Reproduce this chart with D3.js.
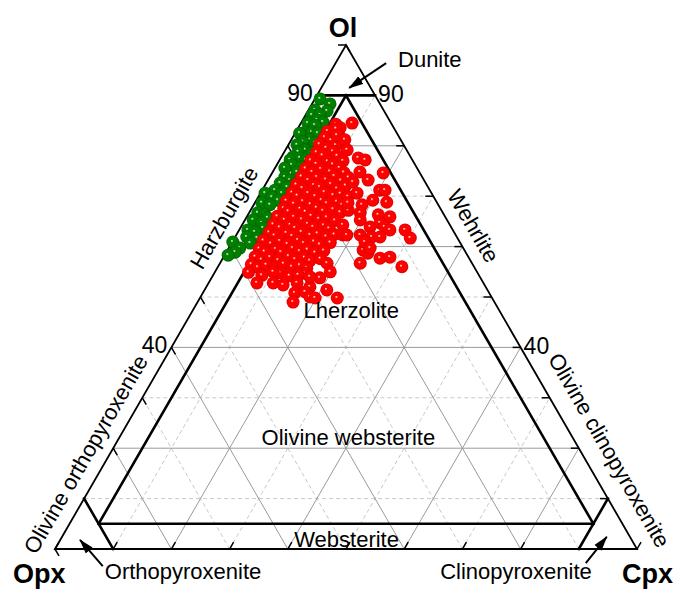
<!DOCTYPE html>
<html>
<head>
<meta charset="utf-8">
<script src="https://cdn.jsdelivr.net/npm/d3@7"></script>
<style>
  body { margin: 0; background: #fff; }
  svg { display: block; }
  text { font-family: "Liberation Sans", Arial, sans-serif; fill: #000; }
</style>
</head>
<body>
<svg id="chart" width="678" height="592"></svg>
<script>
// Ternary end-members
const vertexNames = ["Ol", "Opx", "Cpx"];

// Axis ticks every 10 %, grid lines major / minor
const tickValues = [0, 10, 20, 30, 40, 50, 60, 70, 80, 90, 100];
const majorGrid = [20, 40, 60, 80];
const minorGrid = [10, 30, 50, 70, 90];
const sideTickLabels = [90, 40];

// Samples as [Ol %, Cpx %]; Opx is the balance to 100 %
const harzburgite = [
  [89.3,0.9],[88.3,3.1],[87.1,1.1],[86.9,3.3],[86.1,1.1],[86.1,2.5],[85.1,2.5],[84.7,3.7],
  [84.5,1.2],[84.1,2.6],[82.7,1.6],[82.7,2.8],[82.5,3.9],[82.5,0.8],[81.2,3.2],[80.8,2.2],
  [80.6,4.4],[80.2,1.5],[79.2,3.4],[78.8,2.4],[78.6,4.9],[77.8,2.0],[77.6,3.3],[77.2,4.5],
  [77.2,1.8],[76.2,2.6],[75.8,4.5],[75.6,1.7],[74.8,4.2],[73.8,2.6],[73.2,3.8],[72.6,2.4],
  [72.6,4.9],[71.8,4.0],[71.2,2.2],[70.6,3.7],[70.6,0.8],[69.8,2.4],[69.2,3.7],[68.7,1.2],
  [68.3,2.8],[66.7,1.5],[66.3,2.9],[65.7,3.7],[65.3,1.4],[64.7,3.2],[63.7,3.9],[63.3,1.5],
  [62.9,2.9],[61.9,2.0],[61.7,3.9],[60.9,0.1],[60.7,3.2],[59.7,1.9],[58.9,1.5],[58.3,0.6]
];

const lherzolite = [
  [84.3,6.1],[83.6,7.2],[82.9,5.4],[83.4,6.6],[81.7,5.5],[81.1,6.9],[81.8,8.0],
  [80.3,5.3],[79.6,6.8],[80.1,8.2],[78.7,5.6],[78.1,6.9],[78.9,8.3],[78.0,9.5],
  [77.1,5.4],[76.4,6.7],[76.9,8.4],[76.3,9.6],[77.0,11.0],
  [75.5,5.3],[74.8,6.8],[75.4,8.0],[74.9,9.8],[75.6,11.1],[74.7,12.3],
  [73.9,5.4],[73.2,6.9],[73.8,8.1],[73.3,9.9],[74.0,11.0],[73.1,12.6],[73.7,13.6],
  [72.3,5.3],[71.6,6.7],[72.2,8.4],[71.8,9.6],[72.4,11.2],[71.5,12.7],[72.1,13.9],
  [70.7,5.4],[70.1,6.6],[70.6,8.2],[70.0,9.7],[70.8,10.9],[70.2,12.7],[70.5,13.8],[69.9,15.4],
  [69.1,5.2],[68.5,6.8],[69.0,8.1],[68.4,9.7],[69.2,11.2],[68.6,12.4],[68.9,14.0],[68.3,15.2],
  [67.6,5.5],[67.0,6.6],[67.5,8.4],[66.9,9.6],[67.7,11.1],[67.1,12.5],[67.4,14.1],[66.8,15.6],[67.2,16.8],
  [66.0,5.2],[65.3,6.8],[65.9,8.1],[65.4,9.7],[66.1,11.0],[65.5,12.6],[65.8,13.8],[65.2,15.5],
  [64.4,5.3],[63.8,6.7],[64.3,8.3],[63.7,9.4],[64.5,11.2],[63.9,12.4],[64.2,14.1],[63.6,15.3],
  [62.8,5.4],[62.2,6.6],[62.7,8.4],[62.1,9.7],[62.9,10.9],[62.3,12.7],[62.6,13.8],[62.0,15.6],[62.4,16.8],
  [61.2,5.2],[60.6,6.8],[61.1,8.1],[60.5,9.7],[61.3,11.1],[60.7,12.4],[61.0,14.0],[60.4,15.3],[60.8,16.9],
  [59.6,5.3],[59.0,6.5],[59.5,8.2],[58.9,9.4],[59.7,11.0],[59.1,12.5],[59.4,13.7],[58.8,15.3],[59.2,16.6],
  [58.0,5.4],[57.4,6.8],[57.9,8.0],[57.3,9.7],[58.1,11.1],[57.5,12.5],[57.8,14.0],[57.2,15.2],[57.6,16.8],
  [56.5,5.5],[55.9,6.9],[56.4,8.1],[55.8,9.8],[56.6,11.0],[56.0,12.7],[56.3,13.9],[55.7,15.4],
  [54.9,5.8],[54.3,8.4],[54.8,11.3],[54.2,13.2],[54.7,15.5],
  [84.5,8.8],[82.1,7.4],[81.2,9.2],[79.2,10.6],[77.6,13.3],[77.2,14.7],[74.8,15.0],[74.6,19.1],
  [73.2,17.2],[72.8,14.8],[71.2,20.2],[71.2,21.1],[70.6,16.6],[69.2,20.0],[68.8,22.6],[68.3,18.6],
  [68.7,16.0],[66.7,19.1],[66.3,22.4],[65.9,24.6],[64.7,23.5],[63.9,24.7],[63.3,25.9],[63.9,22.2],
  [64.3,17.3],[62.3,21.3],[61.9,23.5],[61.9,24.9],[63.3,28.5],[61.7,30.2],[59.3,23.3],[58.7,24.4],
  [57.7,27.0],[57.9,28.6],[56.0,31.6],[56.7,24.1],[62.3,18.3],[56.7,18.4],[55.0,19.8],[54.4,14.6],
  [55.0,10.0],[52.8,8.3],[52.8,11.1],[52.4,13.0],[52.8,15.2],[52.0,17.8],[53.8,18.6],[50.8,15.8],
  [51.0,17.5],[49.0,16.4],[50.0,18.8],[49.8,19.8],[51.4,21.0],[49.8,23.6],[65.3,19.8],[60.9,22.8],
  [59.7,24.3],[62.3,19.0],[54.0,16.8]
];

// IUGS ultramafic field boundaries, end points as [Ol, Cpx]
const boundaries = [
  [[90, 0], [90, 10]],   // Ol = 90
  [[90, 5], [5, 5]],     // Cpx = 5
  [[90, 5], [5, 90]],    // Opx = 5
  [[5, 5], [5, 90]],     // Ol = 5
  [[10, 0], [0, 10]],    // Opx = 90
  [[0, 90], [10, 90]]    // Cpx = 90
];

// Field names: text, anchor [Ol, Cpx], rotation
const fieldLabels = [
  { text: "Lherzolite",              at: [45.8, 28.0],  rot: 0 },
  { text: "Olivine websterite",      at: [20.6, 40.1],  rot: 0 },
  { text: "Websterite",              at: [0.4, 49.9],   rot: 0 },
  { text: "Orthopyroxenite",         at: [-6.0, 25.0],  rot: 0 },
  { text: "Clinopyroxenite",         at: [-6.0, 82.2],  rot: 0 },
  { text: "Dunite",                  at: [95.6, 16.6],  rot: 0 },
  { text: "Harzburgite",             at: [65.7, -3.8],  rot: -60, mid: true },
  { text: "Wehrlite",                at: [64.1, 39.8],  rot: 60,  mid: true },
  { text: "Olivine orthopyroxenite", at: [18.8, -4.1],  rot: -60, mid: true },
  { text: "Olivine clinopyroxenite", at: [19.6, 85.4],  rot: 60,  mid: true }
];

// Pointer arrows: tail -> head, as [Ol, Cpx]
const arrows = [
  [[96.4, 8.7], [91.5, 4.8]],
  [[-3.4, 9.9], [1.8, 3.4]],
  [[-2.8, 92.6], [2.4, 93.6]]
];

const svg = d3.select("#chart");

// Base runs Opx (Cpx = 0) to Cpx (Cpx = 100); height measures Ol
const xBase = d3.scaleLinear().domain([0, 100]).range([55, 637]);
const yOl = d3.scaleLinear().domain([0, 100]).range([549, 45]);
const proj = (ol, cpx) => [xBase(cpx + ol / 2), yOl(ol)];

const defs = svg.append("defs");
function sphere(id, base, edge) {
  const g = defs.append("radialGradient").attr("id", id)
    .attr("cx", "50%").attr("cy", "50%").attr("r", "50%")
    .attr("fx", "42%").attr("fy", "40%");
  g.append("stop").attr("offset", "0%").attr("stop-color", "#ffffff");
  g.append("stop").attr("offset", "24%").attr("stop-color", base);
  g.append("stop").attr("offset", "78%").attr("stop-color", base);
  g.append("stop").attr("offset", "100%").attr("stop-color", edge);
}
sphere("ballRed", "#ff0000", "#d40000");
sphere("ballGreen", "#008000", "#005c00");

defs.append("marker").attr("id", "head")
  .attr("viewBox", "0 0 15 10").attr("refX", 14).attr("refY", 5)
  .attr("markerWidth", 15).attr("markerHeight", 10)
  .attr("markerUnits", "userSpaceOnUse").attr("orient", "auto")
  .append("path").attr("d", "M0,0.5 L15,5 L0,9.5 Z").attr("fill", "#000");

const line = d3.line();

// Grid: three families of iso-lines
const grid = svg.append("g");
function gridLines(values, cls) {
  values.forEach(v => {
    const segs = [
      [proj(v, 0), proj(v, 100 - v)],          // constant Ol
      [proj(0, v), proj(100 - v, v)],          // constant Cpx
      [proj(0, 100 - v), proj(100 - v, 0)]     // constant Opx
    ];
    segs.forEach(s => grid.append("path").attr("d", line(s)).attr("class", cls));
  });
}
gridLines(minorGrid, "minor");
gridLines(majorGrid, "major");
grid.selectAll(".minor").attr("fill", "none").attr("stroke", "#c8c8c8")
  .attr("stroke-width", 1).attr("stroke-dasharray", "4,3");
grid.selectAll(".major").attr("fill", "none").attr("stroke", "#9a9a9a").attr("stroke-width", 1);

// Outer triangle
const apex = proj(100, 0), opx = proj(0, 0), cpx = proj(0, 100);
svg.append("path").attr("d", line([opx, apex, cpx]) + "Z")
  .attr("fill", "none").attr("stroke", "#000").attr("stroke-width", 1.8)
  .attr("stroke-linejoin", "miter");

// Ticks
const tl = 8, c60 = 0.5, s60 = Math.sqrt(3) / 2;
const ticks = svg.append("g").attr("stroke", "#000").attr("stroke-width", 1.5);
tickValues.forEach(v => {
  const r = proj(v, 100 - v);        // right edge, inward horizontal
  ticks.append("path").attr("d", line([r, [r[0] - tl, r[1]]]));
  const l = proj(v, 0);              // left edge, down-right
  ticks.append("path").attr("d", line([l, [l[0] + tl * c60, l[1] + tl * s60]]));
  const b = proj(0, v);              // base, up-right
  ticks.append("path").attr("d", line([b, [b[0] + tl * c60, b[1] - tl * s60]]));
});

// Field boundaries
svg.append("g").selectAll("path").data(boundaries).join("path")
  .attr("d", d => line(d.map(p => proj(p[0], p[1]))))
  .attr("fill", "none").attr("stroke", "#000").attr("stroke-width", 2.6)
  .attr("stroke-linecap", "square");

// Side tick labels
sideTickLabels.forEach(v => {
  const l = proj(v, 0), r = proj(v, 100 - v);
  svg.append("text").attr("x", l[0] - 4).attr("y", l[1] + 6)
    .attr("text-anchor", "end").attr("font-size", 23).text(v);
  svg.append("text").attr("x", r[0] + 3).attr("y", r[1] + 7)
    .attr("text-anchor", "start").attr("font-size", 23).text(v);
});

// Vertex labels
svg.append("text").attr("x", apex[0] - 3).attr("y", apex[1] - 8)
  .attr("text-anchor", "middle").attr("font-size", 27).attr("font-weight", "bold").text(vertexNames[0]);
svg.append("text").attr("x", opx[0] - 42).attr("y", opx[1] + 34)
  .attr("text-anchor", "start").attr("font-size", 27).attr("font-weight", "bold").text(vertexNames[1]);
svg.append("text").attr("x", cpx[0] - 15).attr("y", cpx[1] + 34)
  .attr("text-anchor", "start").attr("font-size", 27).attr("font-weight", "bold").text(vertexNames[2]);

// Arrows
svg.append("g").selectAll("path").data(arrows).join("path")
  .attr("d", d => line(d.map(p => proj(p[0], p[1]))))
  .attr("stroke", "#000").attr("stroke-width", 2).attr("fill", "none")
  .attr("marker-end", "url(#head)");

// Samples
const pts = svg.append("g");
pts.selectAll(".hz").data(harzburgite).join("circle").attr("class", "hz")
  .attr("cx", d => proj(d[0], d[1])[0]).attr("cy", d => proj(d[0], d[1])[1])
  .attr("r", 6.5).attr("fill", "url(#ballGreen)");
pts.selectAll(".lz").data(lherzolite).join("circle").attr("class", "lz")
  .attr("cx", d => proj(d[0], d[1])[0]).attr("cy", d => proj(d[0], d[1])[1])
  .attr("r", 6.5).attr("fill", "url(#ballRed)");

// Field names
fieldLabels.forEach(f => {
  const p = proj(f.at[0], f.at[1]);
  const t = svg.append("text").attr("text-anchor", "middle").attr("font-size", 22)
    .attr("transform", `translate(${p[0]},${p[1]}) rotate(${f.rot})`).text(f.text);
  if (f.mid) t.attr("dominant-baseline", "central");
});
</script>
</body>
</html>
